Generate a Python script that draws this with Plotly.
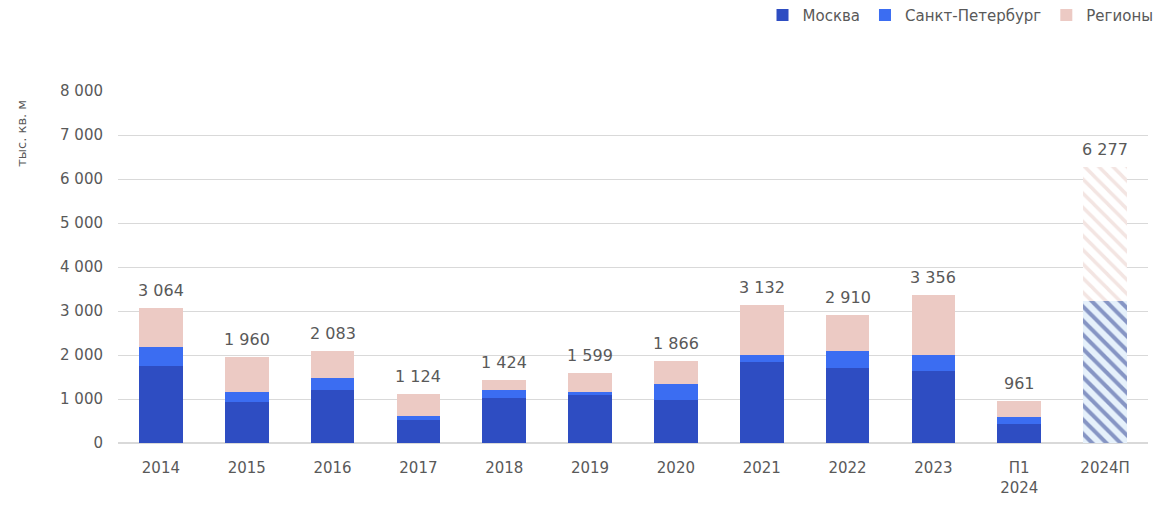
import plotly.graph_objects as go

categories = ["2014", "2015", "2016", "2017", "2018", "2019", "2020", "2021", "2022", "2023", "П1<br>2024"]
moscow = [1740, 925, 1200, 520, 1015, 1085, 970, 1830, 1695, 1630, 430]
spb = [450, 225, 270, 90, 185, 65, 360, 180, 405, 360, 160]
totals = [3064, 1960, 2083, 1124, 1424, 1599, 1866, 3132, 2910, 3356, 961]
regions = [t - m - s for t, m, s in zip(totals, moscow, spb)]

forecast_cat = ["2024П"]
forecast_msk_spb = [3230]
forecast_total = [6277]
forecast_regions = [forecast_total[0] - forecast_msk_spb[0]]

all_cats = categories + forecast_cat
all_totals = totals + forecast_total

C_MSK = "#2E4DC2"
C_SPB = "#3B6DF2"
C_REG = "#ECCAC4"
TXT = "#595959"
FONT = "DejaVu Sans"

fig = go.Figure()
fig.add_bar(x=categories, y=moscow, name="Москва", marker_color=C_MSK, marker_line_width=0)
fig.add_bar(x=categories, y=spb, name="Санкт-Петербург", marker_color=C_SPB, marker_line_width=0)
fig.add_bar(x=categories, y=regions, name="Регионы", marker_color=C_REG, marker_line_width=0)

fig.add_bar(x=forecast_cat, y=forecast_msk_spb, showlegend=False, marker_line_width=0,
            marker=dict(color="#E6F1FB",
                        pattern=dict(shape="\\", fgcolor="#263A8E", bgcolor="#E6F1FB",
                                     size=10, solidity=0.4)))
fig.add_bar(x=forecast_cat, y=forecast_regions, showlegend=False, marker_line_width=0,
            marker=dict(color="white",
                        pattern=dict(shape="\\", fgcolor="#E8CBC6", bgcolor="white",
                                     size=10, solidity=0.35)))

for i, t in enumerate(all_totals):
    fig.add_annotation(x=i, y=t, text=f"{t:,}".replace(",", " "), showarrow=False,
                       yanchor="bottom", yshift=6, font=dict(family=FONT, size=16, color=TXT))

fig.add_annotation(xref="paper", yref="paper", x=-0.094, y=0.98, xanchor="center", yanchor="top",
                   text="тыс. кв. м", textangle=-90, showarrow=False,
                   font=dict(family=FONT, size=13, color=TXT))

fig.update_layout(
    barmode="stack",
    bargap=0.49,
    width=1162, height=509,
    margin=dict(l=118, r=14, t=91, b=64),
    plot_bgcolor="white", paper_bgcolor="white",
    font=dict(family=FONT, size=14, color=TXT),
    legend=dict(orientation="h", xref="container", yref="container",
                x=0.997, xanchor="right", y=0.97, yanchor="middle",
                font=dict(family=FONT, size=15, color=TXT), traceorder="normal",
                itemwidth=30, tracegroupgap=0),
    yaxis=dict(range=[0, 8000], dtick=1000, tickformat=",d",
               showgrid=True, gridcolor="#D9D9D9", gridwidth=1, zeroline=True,
               zerolinecolor="#D9D9D9", ticks="", ticklabelstandoff=14,
               tickfont=dict(family=FONT, size=15, color=TXT)),
    xaxis=dict(type="category", categoryorder="array", categoryarray=all_cats,
               range=[-0.5, len(all_cats) - 0.5],
               showline=False, ticks="", ticklabelstandoff=14,
               tickfont=dict(family=FONT, size=15, color=TXT)),
    separators=". ",
)

fig.write_html("out.html")
